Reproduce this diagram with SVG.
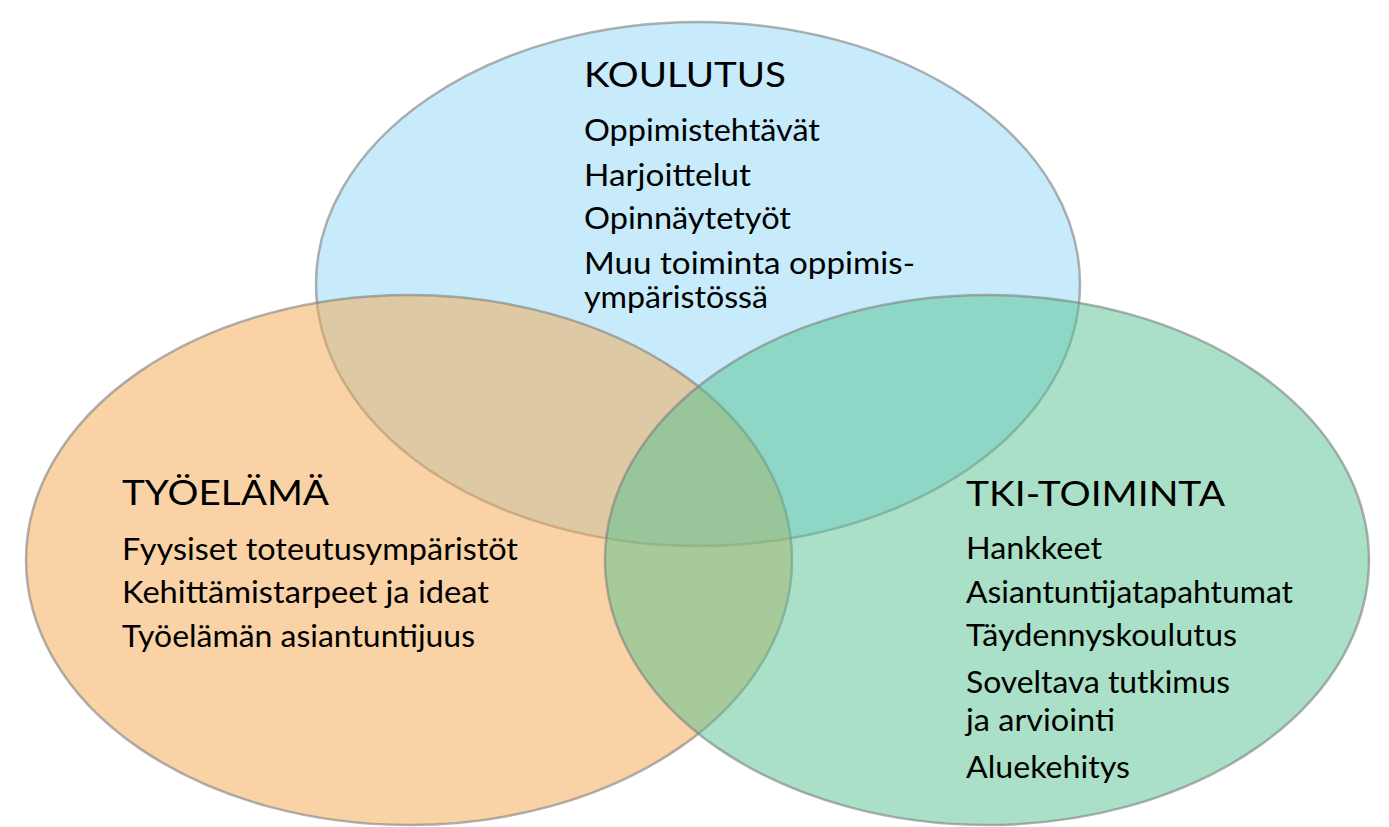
<svg xmlns="http://www.w3.org/2000/svg" width="1389" height="827" viewBox="0 0 1389 827">
<style>
.c{stroke:#7f7f7f;stroke-opacity:0.6;stroke-width:2.5;fill-opacity:0.5}
.t{font-family:Lato,"Liberation Sans",sans-serif;fill:#000}
.h{font-size:34px}
.i{font-size:31px}
</style>
<rect width="1389" height="827" fill="#ffffff"/>
<g id="koulutus">
<ellipse class="c" cx="698" cy="284" rx="382" ry="262" fill="#8fd7f5"/>
</g>
<g id="tyoelama">
<ellipse class="c" cx="409" cy="560" rx="383" ry="265" fill="#f3a74d"/>
</g>
<g id="tki">
<ellipse class="c" cx="987" cy="560" rx="382" ry="265" fill="#55c18f"/>
</g>
<g id="koulutus-text" class="t">
<text class="h" x="584" y="87" textLength="202" lengthAdjust="spacingAndGlyphs">KOULUTUS</text>
<text class="i" x="584" y="141" textLength="236" lengthAdjust="spacingAndGlyphs">Oppimistehtävät</text>
<text class="i" x="584" y="186" textLength="167" lengthAdjust="spacingAndGlyphs">Harjoittelut</text>
<text class="i" x="584" y="229" textLength="207" lengthAdjust="spacingAndGlyphs">Opinnäytetyöt</text>
<text class="i" x="584" y="274" textLength="331" lengthAdjust="spacingAndGlyphs">Muu toiminta oppimis-</text>
<text class="i" x="584" y="308" textLength="184" lengthAdjust="spacingAndGlyphs">ympäristössä</text>
</g>
<g id="tyoelama-text" class="t">
<text class="h" x="122" y="505" textLength="207" lengthAdjust="spacingAndGlyphs">TYÖELÄMÄ</text>
<text class="i" x="122" y="560" textLength="396" lengthAdjust="spacingAndGlyphs">Fyysiset toteutusympäristöt</text>
<text class="i" x="122" y="603" textLength="367" lengthAdjust="spacingAndGlyphs">Kehittämistarpeet ja ideat</text>
<text class="i" x="122" y="647" textLength="353" lengthAdjust="spacingAndGlyphs">Työelämän asiantuntijuus</text>
</g>
<g id="tki-text" class="t">
<text class="h" x="966" y="506" textLength="259" lengthAdjust="spacingAndGlyphs">TKI-TOIMINTA</text>
<text class="i" x="966" y="559" textLength="136" lengthAdjust="spacingAndGlyphs">Hankkeet</text>
<text class="i" x="966" y="603" textLength="327" lengthAdjust="spacingAndGlyphs">Asiantuntijatapahtumat</text>
<text class="i" x="966" y="646" textLength="271" lengthAdjust="spacingAndGlyphs">Täydennyskoulutus</text>
<text class="i" x="966" y="693" textLength="264" lengthAdjust="spacingAndGlyphs">Soveltava tutkimus</text>
<text class="i" x="966" y="731" textLength="149" lengthAdjust="spacingAndGlyphs">ja arviointi</text>
<text class="i" x="966" y="778" textLength="164" lengthAdjust="spacingAndGlyphs">Aluekehitys</text>
</g>
<g id="connectors"/>
</svg>
